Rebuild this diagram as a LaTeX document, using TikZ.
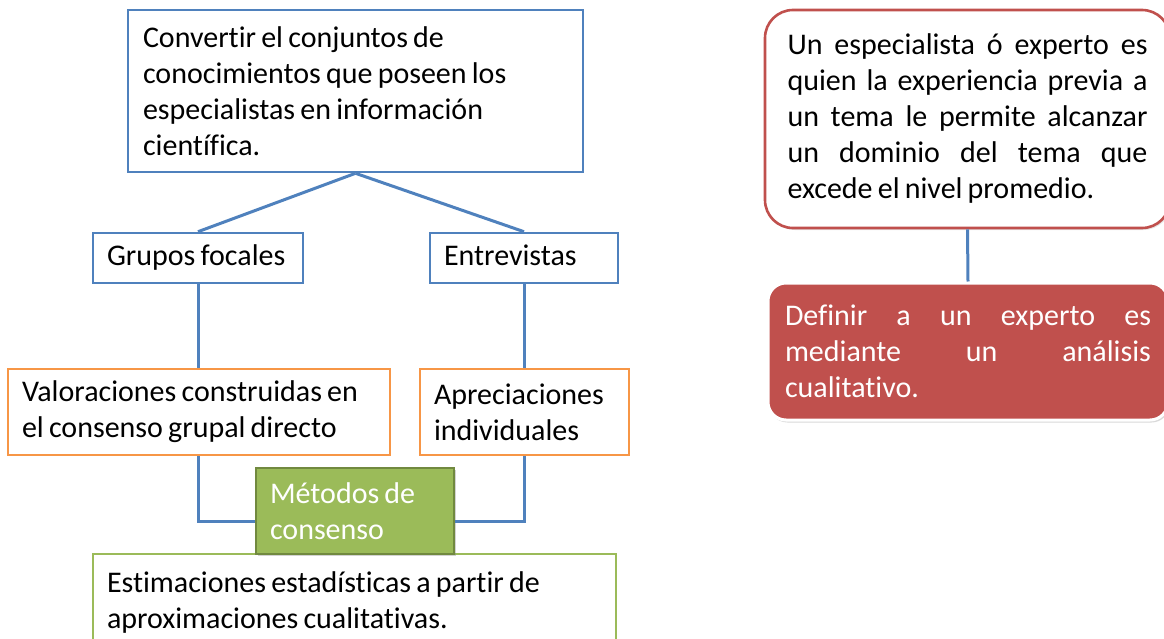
\documentclass[tikz,border=0pt]{standalone}
\usepackage{fontspec}
\setmainfont{Carlito}[Ligatures=NoCommon]
\usetikzlibrary{shadows}
\definecolor{cblue}{HTML}{4F81BD}
\definecolor{corange}{HTML}{F79646}
\definecolor{cgreen}{HTML}{9BBB59}
\definecolor{cgreendk}{HTML}{71893F}
\definecolor{cred}{HTML}{C0504D}
\newcommand{\jl}[2]{\leavevmode\hbox to #1{\spaceskip=5pt plus 1fil\relax #2}}
\newcommand{\tightspaces}{\spaceskip=5.2pt plus 2pt minus 1pt\relax\hyphenpenalty=10000\relax}
\begin{document}
\begin{tikzpicture}[x=1pt,y=-1pt,
  box/.style={rectangle, draw, line width=2.6pt, inner xsep=0pt, inner ysep=0pt,
    align=left, font=\fontsize{30}{36}\selectfont, fill=white,
    execute at begin node=\tightspaces},
  bluebox/.style={box, draw=cblue},
  orangebox/.style={box, draw=corange},
  greenbox/.style={box, draw=cgreen},
  methbox/.style={box, draw=cgreendk, fill=cgreen, text=white,
    drop shadow={shadow xshift=1.5pt, shadow yshift=-2pt, opacity=0.35}},
  redline/.style={box, draw=cred, rounded corners=28pt,
    drop shadow={shadow xshift=1.5pt, shadow yshift=-2pt, opacity=0.2}},
  redfill/.style={box, draw=white, line width=3pt, fill=cred, text=white, rounded corners=18pt,
    drop shadow={shadow xshift=1.5pt, shadow yshift=-2.5pt, opacity=0.3}},
  conn/.style={draw=cblue, line width=3pt}]
\useasboundingbox (0,0) rectangle (1164,639);

% left tree
\node[bluebox, minimum width=455pt, minimum height=162pt, text width=425pt] (top) at (355.5,91)
  {Convertir el conjuntos de\\conocimientos que poseen los\\especialistas en información\\científica.};
\node[bluebox, minimum width=210pt, minimum height=50pt, text width=182pt] (gf) at (198,258) {\strut Grupos focales};
\node[bluebox, minimum width=188pt, minimum height=50pt, text width=160pt] (ent) at (524,258) {\strut Entrevistas};
\node[orangebox, minimum width=382pt, minimum height=86pt, text width=354pt] (val) at (199,412)
  {Valoraciones construidas en\\el consenso grupal directo};
\node[orangebox, minimum width=209pt, minimum height=86pt, text width=181pt] (apr) at (524.5,412)
  {Apreciaciones\\individuales};
\node[greenbox, minimum width=523pt, minimum height=96pt, text width=495pt] (est) at (354.5,602)
  {Estimaciones estadísticas a partir de\\aproximaciones cualitativas.};

\draw[conn] (top.south) -- (gf.north);
\draw[conn] (top.south) -- (ent.north);
\draw[conn] (gf.south) -- (gf.south |- val.north);
\draw[conn] (ent.south) -- (ent.south |- apr.north);

\node[methbox, minimum width=198pt, minimum height=86pt, text width=170pt] (met) at (355,511)
  {Métodos de\\consenso};
\draw[conn] (gf.south |- val.south) |- ([yshift=-10pt]met.west);
\draw[conn] (ent.south |- apr.south) |- ([yshift=-10pt]met.east);

% right side
\node[redline, minimum width=405pt, minimum height=218pt, text width=360pt] (r1) at (967.5,119)
  {\jl{360pt}{Un especialista ó experto es}\\
   \jl{360pt}{quien la experiencia previa a}\\
   \jl{360pt}{un tema le permite alcanzar}\\
   \jl{360pt}{un dominio del tema que}\\
   excede el nivel promedio.};
\node[redfill, minimum width=400pt, minimum height=137pt, text width=366pt] (r2) at (968,351.5)
  {\jl{366pt}{Definir a un experto es}\\
   \jl{366pt}{mediante un análisis}\\
   cualitativo.};
\draw[conn] (r1.south) -- (r2.north);
\end{tikzpicture}
\end{document}
